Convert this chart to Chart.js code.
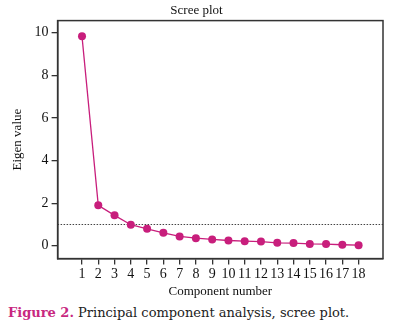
<!DOCTYPE html>
<html>
<head>
<meta charset="utf-8">
<script src="https://cdn.jsdelivr.net/npm/chart.js@4"></script>
<style>
  body { margin: 0; background: #fff; }
  #wrap { position: relative; width: 396px; height: 299px; }
  #caption {
    position: absolute; left: 8px; top: 305px; margin: 0;
    font-family: "DejaVu Serif", serif; font-size: 13px; color: #222;
    white-space: nowrap;
  }
  #caption b { color: #c8287f; }
</style>
</head>
<body>
<div id="wrap"><canvas id="myChart"></canvas></div>
<p id="caption"><b>Figure 2.</b> Principal component analysis, scree plot.</p>
<script>
const components = [1, 2, 3, 4, 5, 6, 7, 8, 9, 10, 11, 12, 13, 14, 15, 16, 17, 18];
const eigenValues = [9.83, 1.90, 1.43, 0.99, 0.80, 0.61, 0.44, 0.36, 0.30, 0.25, 0.22, 0.20, 0.14, 0.13, 0.09, 0.08, 0.05, 0.03];
const yTicks = [0, 2, 4, 6, 8, 10];
const cutoff = 1;
const xMin = -0.5, xMax = 19.5;

const pink = '#c81e7c';
const axisColor = '#333';

// box around the plotting area
const frame = {
  id: 'frame',
  afterDraw(chart) {
    const a = chart.chartArea, ctx = chart.ctx;
    ctx.save();
    ctx.strokeStyle = axisColor;
    ctx.lineWidth = 1.5;
    ctx.strokeRect(a.left, a.top, a.right - a.left, a.bottom - a.top);
    ctx.restore();
  }
};

const points = components.map((c, i) => ({x: c, y: eigenValues[i]}));

const myChart = new Chart(document.getElementById('myChart'), {
  type: 'line',
  data: {
    datasets: [
      {
        data: points,
        borderColor: pink,
        backgroundColor: pink,
        borderWidth: 1.3,
        pointRadius: 4,
        pointBorderWidth: 0,
        tension: 0,
      },
      {
        data: [{x: xMin, y: cutoff}, {x: xMax, y: cutoff}],
        borderColor: '#444',
        borderWidth: 1,
        borderDash: [1.5, 1.5],
        pointRadius: 0,
      },
    ],
  },
  options: {
    animation: false,
    responsive: true,
    maintainAspectRatio: false,
    layout: { padding: { left: 10, right: 13, top: 0, bottom: 0 } },
    plugins: {
      legend: { display: false },
      tooltip: { enabled: false },
      title: {
        display: true,
        text: 'Scree plot',
        color: '#111',
        font: { family: 'Liberation Serif', size: 13, weight: 'normal' },
        padding: { top: 3, bottom: 2 },
      },
    },
    scales: {
      x: {
        type: 'linear',
        min: xMin,
        max: xMax,
        afterBuildTicks: (s) => { s.ticks = components.map(v => ({value: v})); },
        border: { display: true, color: axisColor, width: 1.5 },
        grid: { drawOnChartArea: false, drawTicks: true, tickLength: 6, color: axisColor, lineWidth: 1.3 },
        ticks: {
          color: '#111', padding: 1, autoSkip: false, maxRotation: 0,
          font: { family: 'Liberation Serif', size: 14 },
        },
        title: {
          display: true, text: 'Component number', color: '#111',
          font: { family: 'Liberation Serif', size: 13 },
          padding: { top: 0, bottom: 0 },
        },
      },
      y: {
        min: -0.6,
        max: 10.57,
        afterBuildTicks: (s) => { s.ticks = yTicks.map(v => ({value: v})); },
        border: { display: true, color: axisColor, width: 1.5 },
        grid: { drawOnChartArea: false, drawTicks: true, tickLength: 6, color: axisColor, lineWidth: 1.3 },
        ticks: {
          color: '#111', padding: 3,
          font: { family: 'Liberation Serif', size: 14 },
        },
        title: {
          display: true, text: 'Eigen value', color: '#111',
          font: { family: 'Liberation Serif', size: 13 },
          padding: { top: 0, bottom: 6 },
        },
      },
    },
  },
  plugins: [frame],
});
</script>
</body>
</html>
